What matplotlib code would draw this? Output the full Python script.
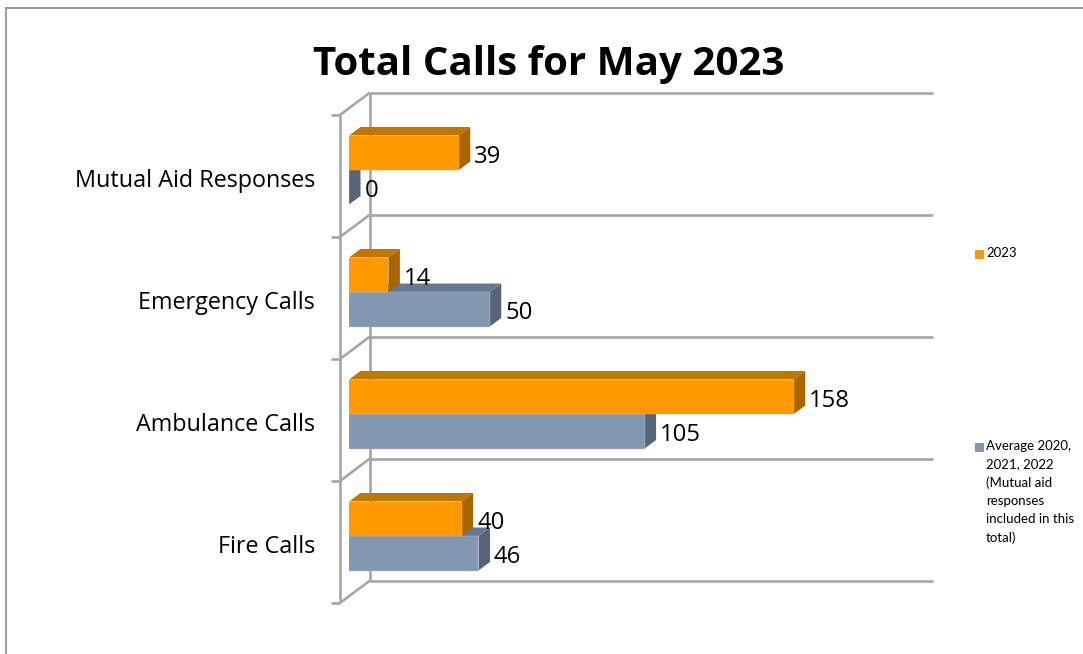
import matplotlib
matplotlib.use("Agg")
import matplotlib.pyplot as plt
from matplotlib.patches import Polygon, Rectangle

categories = ["Fire Calls", "Ambulance Calls", "Emergency Calls", "Mutual Aid Responses"]
calls_2023 = [40, 158, 14, 39]
calls_avg = [46, 105, 50, 0]
series_names = ["2023", "Average 2020,\n2021, 2022\n(Mutual aid\nresponses\nincluded in this\ntotal)"]
title = "Total Calls for May 2023"

ORANGE = ("#FF9900", "#C27500", "#A86500")  # front, top, side
BLUE = ("#8497B0", "#66788F", "#56657A")
WALL = "#A6A6A6"

W, H = 1083, 654
fig = plt.figure(figsize=(W / 100, H / 100), dpi=100)
plt.rcParams["font.family"] = ["Open Sans", "DejaVu Sans"]

# plot area in pixels: x 349-933, y 92-603
ax = fig.add_axes([349 / W, 1 - 603 / H, (933 - 349) / W, (603 - 92) / H])
px_x = 2.815  # pixels per call
px_y = 122.0  # pixels per category
ax.set_xlim(0, 584 / px_x)
ax.set_ylim(-59 / px_y, 452 / px_y)
ax.patch.set_visible(False)
for s in ax.spines.values():
    s.set_visible(False)
ax.set_xticks([])
ax.set_yticks(range(len(categories)))
ax.set_yticklabels(categories, fontsize=16.8)
ax.tick_params(axis="y", length=0, pad=24.5)

# 3d depth of the bars and the walls, in data units
bar_dx, bar_dy = 11.5 / px_x, 8.5 / px_y
wall_left, wall_back = -9 / px_x, 21 / px_x
wall_dy = 22.5 / px_y
floor = -59 / px_y
bar_h = 34.5 / px_y
bar_shift = 8 / px_y

line = dict(color=WALL, lw=1.9, clip_on=False, solid_capstyle="butt", zorder=1)
n = len(categories)
ax.plot([wall_left, wall_left], [floor, floor + n], **line)
ax.plot([wall_back, wall_back], [floor + wall_dy, floor + wall_dy + n], **line)
for i in range(n + 1):
    y = floor + i
    ax.plot([wall_left, wall_back], [y, y + wall_dy], **line)
    ax.plot([wall_back, 584 / px_x], [y + wall_dy, y + wall_dy], **line)
    ax.plot([wall_left - 9 / px_x, wall_left], [y, y], **line)


def draw_bar(value, y0, colors, edge):
    y1 = y0 + bar_h
    ax.add_patch(Polygon([(0, y1), (value, y1), (value + bar_dx, y1 + bar_dy), (bar_dx, y1 + bar_dy)],
                         fc=colors[1], ec="none", zorder=3))
    ax.add_patch(Polygon([(value, y0), (value + bar_dx, y0 + bar_dy), (value + bar_dx, y1 + bar_dy), (value, y1)],
                         fc=colors[2], ec="none", zorder=3))
    ax.barh(y0, value, height=bar_h, align="edge", color=colors[0], edgecolor=edge, linewidth=0.3, zorder=3)
    ax.text(value + 15.5 / px_x, y0 + bar_h / 2 - 4 / px_y, str(value), fontsize=17.2,
            ha="left", va="center", zorder=5)


for i in range(n):
    mid = i + bar_shift
    draw_bar(calls_avg[i], mid - bar_h, BLUE, "#B4C1D2")
    draw_bar(calls_2023[i], mid, ORANGE, "#FFAE33")

# chart frame
fig.add_artist(plt.Line2D([6 / W, 6 / W], [0, 1 - 8 / H], color="#A0A0A0", lw=1.5))
fig.add_artist(plt.Line2D([6 / W, 1], [1 - 8 / H, 1 - 8 / H], color="#A0A0A0", lw=1.5))

fig.text(549 / W, 1 - 64 / H, title, fontsize=29, fontweight="bold", ha="center", va="center",
         color="black")

# legend
for name, color, ytop in zip(series_names, [ORANGE[0], BLUE[0]], [250, 443]):
    fig.add_artist(Rectangle((975 / W, 1 - (ytop + 9) / H), 9 / W, 9 / H, fc=color, ec="none",
                             transform=fig.transFigure))
    fig.text(986 / W, 1 - (ytop - 3) / H, name, fontsize=9.5, family=["Lato", "DejaVu Sans"],
             ha="left", va="top", linespacing=1.6)

fig.savefig("out.png", dpi=100)
